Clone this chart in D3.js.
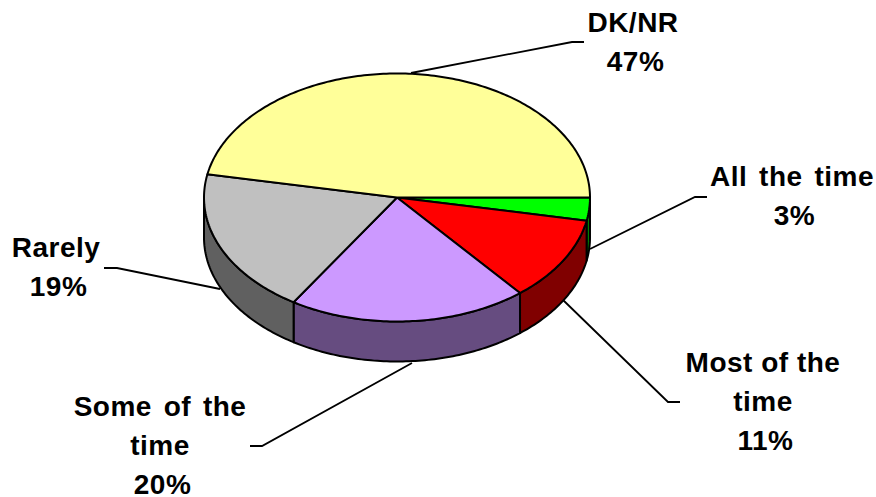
<!DOCTYPE html>
<html>
<head>
<meta charset="utf-8">
<script src="https://cdn.jsdelivr.net/npm/d3@7"></script>
<style>
    html, body { margin: 0; padding: 0; background: #fff; }
    text { font-family: "Liberation Sans", Arial, sans-serif; font-weight: bold; font-size: 28px; fill: #000; text-anchor: middle; letter-spacing: 0.5px; word-spacing: 3.5px; }
</style>
</head>
<body>
<svg id="chart" width="876" height="497" style="display:block"></svg>
<script>
// values, clockwise from 3 o'clock
const categories = ["All the time", "Most of the time", "Some of the time", "Rarely", "DK/NR"];
const percents = [3, 11, 20, 19, 47];
const topColors = ["#00ff00", "#ff0000", "#cc99ff", "#c0c0c0", "#ffff99"];
const sideColors = ["#008000", "#800000", "#664c80", "#606060", "#808050"];

// label layout, one entry per category
const labelLines = [["All the time"], ["Most of the", "time"], ["Some of the", "time"], ["Rarely"], ["DK/NR"]];
const labelX = [792, 763, 160, 56, 633];
const labelY = [186, 372, 416, 257, 32];
const labelWordGap = [3.5, 0, 3.5, 3.5, 3.5];
const percentShift = 2.5;
const leaders = [
    [[590, 249], [695, 197], [707, 197]],
    [[562, 299], [668, 402], [680, 402]],
    [[412, 363], [262, 446], [250, 446]],
    [[220, 289], [117, 268], [104, 268]],
    [[411, 73], [572, 42], [584, 42]]
];

const svg = d3.select("#chart");
const cx = 397, cy = 197.5, rx = 193, ry = 124, depth = 40;
const lineGap = 39;

const pie = d3.pie().sort(null).startAngle(Math.PI / 2).endAngle(Math.PI / 2 + 2 * Math.PI);
const slices = pie(percents);

// d3 pie angles are measured from 12 o'clock, clockwise
const ex = (a) => cx + rx * Math.sin(a);
const ey = (a) => cy - ry * Math.cos(a);
const line = d3.line().x((d) => d[0]).y((d) => d[1]);

function rimPoints(a0, a1, dy) {
    const n = Math.max(2, Math.ceil((a1 - a0) * 60));
    return d3.range(n + 1).map((i) => {
        const a = a0 + (a1 - a0) * i / n;
        return [ex(a), ey(a) + dy];
    });
}

// leader lines go under the pie
svg.append("g")
    .selectAll("path")
    .data(leaders)
    .join("path")
    .attr("d", (d) => line(d))
    .attr("fill", "none")
    .attr("stroke", "#000")
    .attr("stroke-width", 1.8);

// side wall, only the front half of the rim shows
const frontStart = Math.PI / 2, frontEnd = 3 * Math.PI / 2;
svg.append("g")
    .selectAll("path")
    .data(slices.filter((d) => d.startAngle < frontEnd))
    .join("path")
    .attr("d", (d) => {
        const a0 = Math.max(d.startAngle, frontStart);
        const a1 = Math.min(d.endAngle, frontEnd);
        const upper = rimPoints(a0, a1, 0);
        const lower = rimPoints(a0, a1, depth).reverse();
        return line(upper.concat(lower)) + "Z";
    })
    .attr("fill", (d) => sideColors[d.index])
    .attr("stroke", "#000")
    .attr("stroke-width", 2)
    .attr("stroke-linejoin", "round");

// top face
svg.append("g")
    .selectAll("path")
    .data(slices)
    .join("path")
    .attr("d", (d) => line([[cx, cy]].concat(rimPoints(d.startAngle, d.endAngle, 0))) + "Z")
    .attr("fill", (d) => topColors[d.index])
    .attr("stroke", "#000")
    .attr("stroke-width", 2)
    .attr("stroke-linejoin", "round");

// labels
const labels = svg.append("g")
    .selectAll("text")
    .data(categories)
    .join("text")
    .attr("transform", (d, i) => `translate(${labelX[i]},${labelY[i]})`)
    .style("word-spacing", (d, i) => labelWordGap[i] + "px");

labels.each(function (d, i) {
    const rows = labelLines[i].concat(percents[i] + "%");
    d3.select(this)
        .selectAll("tspan")
        .data(rows)
        .join("tspan")
        .attr("x", (r, j) => (j === rows.length - 1 ? percentShift : 0))
        .attr("y", (r, j) => j * lineGap)
        .text((r) => r);
});
</script>
</body>
</html>
